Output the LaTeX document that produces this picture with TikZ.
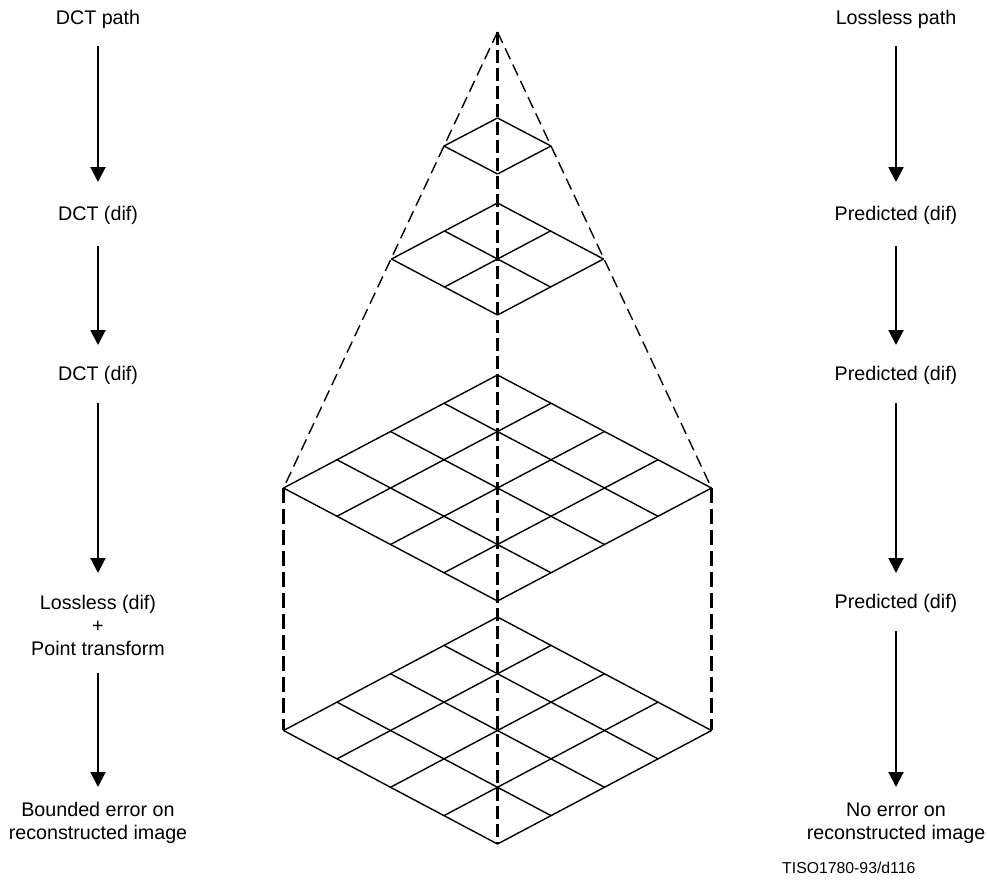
\documentclass[tikz,border=0pt]{standalone}
\usepackage{fontspec}
\setmainfont{Liberation Sans}
\usetikzlibrary{arrows.meta}
\newcommand\isogrid[5]{% #1 cx, #2 top y, #3 half width, #4 half height, #5 cells
  \foreach \i in {0,...,#5}{
    \draw[gridline] ({#1-\i*#3/#5},{#2+\i*#4/#5}) -- ++(#3,#4);
    \draw[gridline] ({#1+\i*#3/#5},{#2+\i*#4/#5}) -- ++(-#3,#4);
  }}
\begin{document}
\begin{tikzpicture}[x=1pt,y=-1pt,
  lbl/.style={font=\fontsize{19.7}{23}\selectfont, align=center, inner sep=0pt},
  small/.style={font=\fontsize{15.8}{18}\selectfont, inner sep=0pt},
  arr/.style={line width=2pt, -{Triangle[width=15pt,length=15pt]}},
  gridline/.style={line width=1.4pt},
  cone/.style={line width=1.4pt, dash pattern=on 12pt off 6pt},
  axis/.style={line width=2.6pt, dash pattern=on 13pt off 5pt},
  side/.style={line width=2.2pt, dash pattern=on 15pt off 6pt}]
\useasboundingbox (0,0) rectangle (988,887);

% left column
\node[lbl] (l1) at (98,19) {DCT path};
\node[lbl] (l2) at (98,215) {DCT (dif)};
\node[lbl] (l3) at (98,375) {DCT (dif)};
\node[lbl] (l4) at (98,625.5) {Lossless (dif)\\+\\Point transform};
\node[lbl] (l5) at (98,823) {Bounded error on\\reconstructed image};
% right column
\node[lbl] (r1) at (896,19) {Lossless path};
\node[lbl] (r2) at (896,215) {Predicted (dif)};
\node[lbl] (r3) at (896,375) {Predicted (dif)};
\node[lbl] (r4) at (896,603) {Predicted (dif)};
\node[lbl] (r5) at (896,823) {No error on\\reconstructed image};
\node[small, anchor=west] (tag) at (782,868) {TISO1780-93/d116};

% arrows
\draw[arr, shorten <=27pt, shorten >=33pt] (l1.center) -- (l2.center);
\draw[arr, shorten <=31pt, shorten >=30pt] (l2.center) -- (l3.center);
\draw[arr, shorten <=28pt, shorten >=52.5pt] (l3.center) -- (l4.center);
\draw[arr, shorten <=47.5pt, shorten >=36pt] (l4.center) -- (l5.center);
\draw[arr, shorten <=27pt, shorten >=33pt] (r1.center) -- (r2.center);
\draw[arr, shorten <=31pt, shorten >=30pt] (r2.center) -- (r3.center);
\draw[arr, shorten <=28pt, shorten >=30pt] (r3.center) -- (r4.center);
\draw[arr, shorten <=28pt, shorten >=36pt] (r4.center) -- (r5.center);

% pyramid
\coordinate (apex) at (497.5,32);
\coordinate (gl) at (283.5,488);
\coordinate (gr) at (711.5,488);
\coordinate (bl) at (283.5,730);
\coordinate (br) at (711.5,730);
\coordinate (bottom) at (497.5,844);

\isogrid{497.5}{118}{53.5}{28}{1}
\isogrid{497.5}{203}{106}{56}{2}
\isogrid{497.5}{375}{214}{113}{4}
\isogrid{497.5}{617}{214}{113.5}{4}

\draw[cone] (apex) -- (gl);
\draw[cone] (apex) -- (gr);
\draw[side] (gl) -- (bl);
\draw[side] (gr) -- (br);
\draw[axis] (apex) -- (bottom);
\end{tikzpicture}
\end{document}
